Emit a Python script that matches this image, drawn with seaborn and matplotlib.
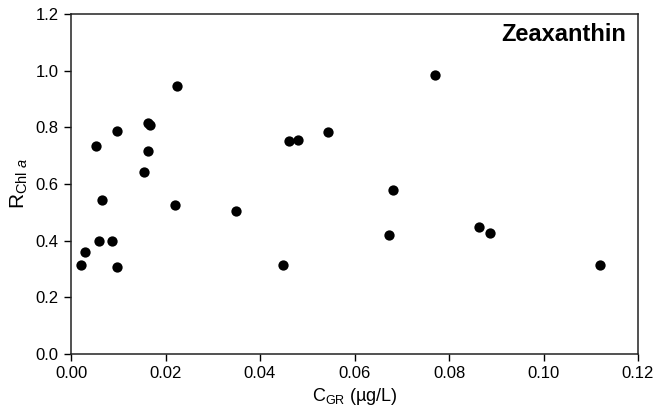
import matplotlib
matplotlib.use("Agg")
import matplotlib.pyplot as plt
import seaborn as sns
import pandas as pd

cgr = [0.0021, 0.0029, 0.0052, 0.0059, 0.0065, 0.0087, 0.0098, 0.0097,
       0.0154, 0.0163, 0.0167, 0.0164, 0.0221, 0.0224, 0.0349, 0.0448,
       0.0462, 0.0481, 0.0543, 0.0770, 0.0681, 0.0672, 0.0863, 0.0886,
       0.1120]
rchl = [0.315, 0.360, 0.735, 0.400, 0.544, 0.400, 0.787, 0.306,
        0.642, 0.816, 0.807, 0.715, 0.526, 0.946, 0.504, 0.314,
        0.753, 0.756, 0.784, 0.984, 0.580, 0.421, 0.447, 0.427,
        0.313]
x_ticks = [0.00, 0.02, 0.04, 0.06, 0.08, 0.10, 0.12]
y_ticks = [0.0, 0.2, 0.4, 0.6, 0.8, 1.0, 1.2]
title = "Zeaxanthin"

sns.set_theme(style="ticks")
plt.rcParams["font.family"] = ["Liberation Sans", "DejaVu Sans"]
plt.rcParams["mathtext.fontset"] = "custom"
plt.rcParams["mathtext.rm"] = "Liberation Sans"
plt.rcParams["mathtext.it"] = "Liberation Sans:italic"
plt.rcParams["text.color"] = "black"
plt.rcParams["axes.labelcolor"] = "black"

df = pd.DataFrame({"cgr": cgr, "rchl": rchl})

fig = plt.figure(figsize=(6.71, 4.12), dpi=100)
ax = fig.add_axes([71/671, 1-354/412, (638-71)/671, (354-14)/412])
sns.scatterplot(data=df, x="cgr", y="rchl", ax=ax, color="black",
                s=55, edgecolor="black", linewidth=0, legend=False)

ax.set_xlim(0, 0.12)
ax.set_ylim(0, 1.2)
ax.set_xticks(x_ticks)
ax.set_xticklabels([f"{v:.2f}" for v in x_ticks])
ax.set_yticks(y_ticks)
ax.set_yticklabels([f"{v:.1f}" for v in y_ticks])
ax.tick_params(axis="both", direction="out", length=5, width=1,
               labelsize=12, colors="black", pad=4)
for sp in ax.spines.values():
    sp.set_visible(True)
    sp.set_color("#222222")
    sp.set_linewidth(1.1)

ax.set_xlabel(r"C$_{\mathrm{GR}}$ (µg/L)", fontsize=13, labelpad=3)
ax.set_ylabel(r"R$_{\mathrm{Chl}\ \mathit{a}}$", fontsize=15, labelpad=4)

ax.text(0.979, 0.94, title, transform=ax.transAxes, ha="right", va="center",
        fontsize=17, fontweight="bold", color="black")

fig.savefig("out.png", dpi=100)
